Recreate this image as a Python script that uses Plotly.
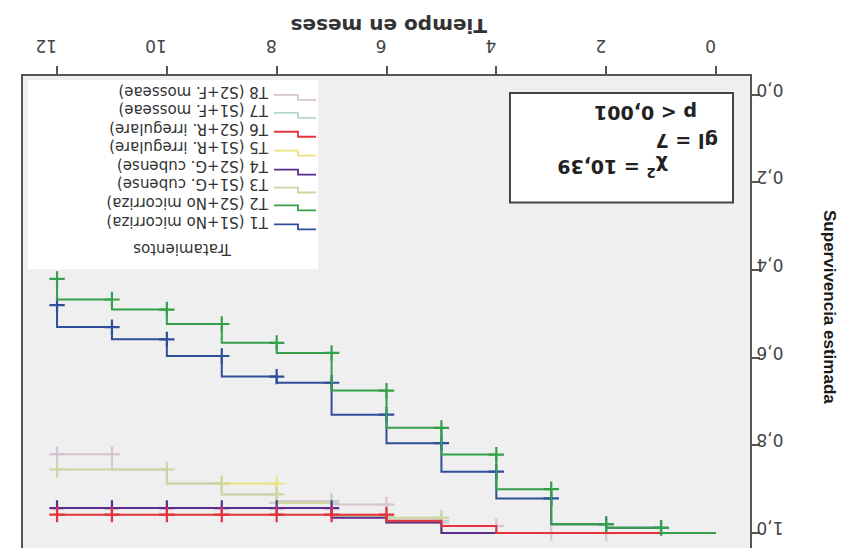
import plotly.graph_objects as go

# ---------------- data ----------------
months = [0, 1, 2, 3, 4, 5, 6, 7, 8, 9, 10, 11, 12]
x_ticks = [0, 2, 4, 6, 8, 10, 12]
y_ticks = [0.0, 0.2, 0.4, 0.6, 0.8, 1.0]
y_tick_labels = ["0,0", "0,2", "0,4", "0,6", "0,8", "1,0"]

# survival value from month k onwards (step function)
T1_surv = [1.0, 0.988, 0.98, 0.921, 0.86, 0.795, 0.73, 0.657, 0.643, 0.596, 0.558, 0.53, 0.48]
T2_surv = [1.0, 0.988, 0.98, 0.90, 0.821, 0.76, 0.675, 0.589, 0.566, 0.523, 0.49, 0.467, 0.42]
T3_surv = [1.0, 1.0, 1.0, 1.0, 1.0, 0.965, 0.961, 0.931, 0.912, 0.887, 0.855, 0.855, 0.855]
T4_surv = [1.0, 1.0, 1.0, 1.0, 1.0, 0.976, 0.965, 0.943, 0.943, 0.943, 0.943, 0.943, 0.943]
T5_surv = [1.0, 1.0, 1.0, 1.0, 1.0, 0.976, 0.961, 0.931, 0.887, 0.887]
T6_surv = [1.0, 1.0, 1.0, 1.0, 0.984, 0.972, 0.958, 0.958, 0.958, 0.958, 0.958, 0.958, 0.958]
T7_surv = [1.0, 1.0, 1.0, 1.0, 1.0, 0.972, 0.961, 0.931, 0.931]
T8_surv = [1.0, 1.0, 1.0, 1.0, 0.984, 0.976, 0.935, 0.927, 0.912, 0.887, 0.855, 0.82, 0.82]

# months with censored observations (+)
T1_cens = [1, 2, 3, 4, 5, 6, 7, 8, 9, 10, 11, 12]
T2_cens = [1, 2, 3, 4, 5, 6, 7, 8, 9, 10, 11, 12]
T3_cens = [5, 8, 9, 10, 12]
T4_cens = [7, 8, 9, 10, 11, 12]
T5_cens = [8, 9]
T6_cens = [6, 7, 8, 9, 10, 11, 12]
T7_cens = [5, 6, 7, 8]
T8_cens = [2, 3, 4, 5, 6, 7, 11, 12]

names = ["T1 (S1+No micorriza)", "T2 (S2+No micorriza)", "T3 (S1+G. cubense)",
         "T4 (S2+G. cubense)", "T5 (S1+R. irregulare)", "T6 (S2+R. irregulare)",
         "T7 (S1+F. mosseae)", "T8 (S2+F. mosseae)"]
colors = ["#2f4e9c", "#34a04a", "#cbd6a4", "#5b2d8c", "#ece27e", "#e5333b",
          "#b6d8d2", "#d6c4d2"]

series = [(T1_surv, T1_cens), (T2_surv, T2_cens), (T3_surv, T3_cens), (T4_surv, T4_cens),
          (T5_surv, T5_cens), (T6_surv, T6_cens), (T7_surv, T7_cens), (T8_surv, T8_cens)]

# ---------------- geometry ----------------
W, H = 849, 548
L, R, T, B = 15, 742, 68, 545


def px(x):
    return (x - L) / (R - L)


def py(y):
    return (B - y) / (B - T)


fig = go.Figure()

order = [7, 6, 4, 2, 3, 5, 0, 1]
for i in order:
    surv, cens = series[i]
    xs = months[:len(surv)]
    fig.add_trace(go.Scatter(x=xs, y=surv, mode="lines", line=dict(color=colors[i], width=2, shape="hv"),
                             showlegend=False, hoverinfo="skip"))
    fig.add_trace(go.Scatter(x=cens, y=[surv[t] for t in cens], mode="markers",
                             marker=dict(symbol="cross-thin", size=11, line=dict(color=colors[i], width=2.2)),
                             showlegend=False, hoverinfo="skip"))

wide = "DejaVu Sans, Liberation Sans, Arial, sans-serif"

fig.update_layout(
    width=W, height=H,
    margin=dict(l=L, r=W - R, t=T, b=H - B),
    paper_bgcolor="white",
    plot_bgcolor="#efefef",
    font=dict(family=wide, color="#333"),
    showlegend=False,
)

fig.update_xaxes(
    range=[12.62, -0.62], side="top", tickvals=x_ticks, ticktext=[str(v) for v in x_ticks],
    tickangle=180, ticks="outside", ticklen=8, tickwidth=1.5, tickcolor="#555",
    showline=True, linecolor="#555", linewidth=2, mirror=True, showgrid=False, zeroline=False,
    tickfont=dict(size=17, color="#444", family=wide), ticklabelstandoff=2,
)
fig.update_yaxes(
    range=[1.041, -0.043], side="right", tickvals=y_ticks, ticktext=y_tick_labels,
    tickangle=180, ticks="outside", ticklen=8, tickwidth=1.5, tickcolor="#555",
    showline=True, linecolor="#555", linewidth=2, mirror=True, showgrid=False, zeroline=False,
    tickfont=dict(size=17, color="#444", family=wide), ticklabelstandoff=20,
)

# axis titles (upside-down chart)
fig.add_annotation(x=px(381), y=py(18), xref="paper", yref="paper", text="<b>Tiempo en meses</b>",
                   textangle=180, xanchor="center", yanchor="middle", showarrow=False,
                   font=dict(size=20, color="#333", family=wide))
fig.add_annotation(x=px(822), y=py(300), xref="paper", yref="paper", text="<b>Supervivencia estimada</b>",
                   textangle=90, xanchor="center", yanchor="middle", showarrow=False,
                   font=dict(size=17, color="#1a1a1a", family="Liberation Sans Narrow, Liberation Sans, Arial"))

# statistics box
fig.add_shape(type="rect", xref="paper", yref="paper", x0=px(502), x1=px(725), y0=py(85), y1=py(195),
              line=dict(color="#444", width=2), fillcolor="white", layer="below")
stats = [("<b>p < 0,001</b>", 105, 691), ("<b>gl = 7</b>", 134, 712), ("<b>χ<sup>2</sup> = 10,39</b>", 161, 662)]
for txt, yy, xr in stats:
    fig.add_annotation(x=px(xr), y=py(yy), xref="paper", yref="paper", text=txt, textangle=180,
                       xanchor="right", yanchor="middle", showarrow=False,
                       font=dict(size=19, color="#222", family=wide))

# manual legend (upside-down)
fig.add_shape(type="rect", xref="paper", yref="paper", x0=px(20), x1=px(310), y0=py(72), y1=py(262),
              line=dict(width=0), fillcolor="white", layer="below")
fig.add_annotation(x=px(175), y=py(241), xref="paper", yref="paper", text="Tratamientos", textangle=180,
                   xanchor="center", yanchor="middle", showarrow=False,
                   font=dict(size=15, color="#333", family=wide))
leg_y = [214, 195, 177, 159, 140, 121, 102, 84]
for i in range(8):
    yy = leg_y[i]
    fig.add_annotation(x=px(263), y=py(yy), xref="paper", yref="paper", text=names[i], textangle=180,
                       xanchor="right", yanchor="middle", showarrow=False,
                       font=dict(size=15, color="#333", family=wide))
    ly = yy + 6
    path = (f"M {px(308)},{py(ly + 2)} L {px(290)},{py(ly + 2)} L {px(290)},{py(ly - 3)} "
            f"L {px(266)},{py(ly - 3)}")
    fig.add_shape(type="path", xref="paper", yref="paper", path=path,
                  line=dict(color=colors[i], width=1.8))

fig.write_html("out.html")
